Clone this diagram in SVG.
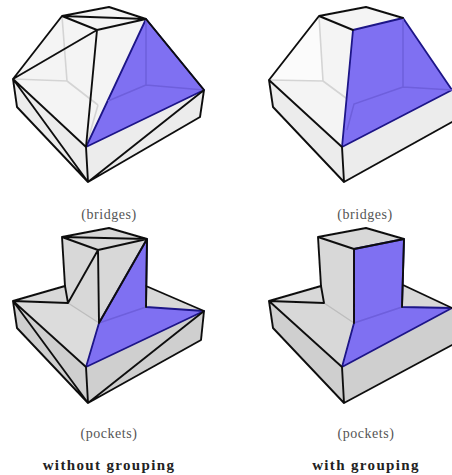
<svg xmlns="http://www.w3.org/2000/svg" width="452" height="475" viewBox="0 0 452 475">
<defs><filter id="soft" x="-5%" y="-5%" width="110%" height="110%"><feGaussianBlur stdDeviation="0.4"/></filter></defs>
<style>
.k{fill:none;stroke:#111;stroke-width:1.9;stroke-linejoin:round;stroke-linecap:round}
.g{fill:none;stroke:#d4d4d4;stroke-width:1.6}
.g2{fill:none;stroke:#bdbdbd;stroke-width:1.3}
.gb{fill:none;stroke:#6e5fdc;stroke-width:1.5}
.b{fill:#7f70f2;stroke:#1d1487;stroke-width:1.8;stroke-linejoin:round}
.l1{fill:#f4f4f4}.w{fill:#fbfbfb}.s1{fill:#ececec}
.l2{fill:#dcdcdc}.d2{fill:#cfcfcf}.m2{fill:#d8d8d8}
.sh{filter:url(#soft)}
text{font-family:"Liberation Serif","DejaVu Serif",serif;text-anchor:middle}
.c{font-size:14px;fill:#555;letter-spacing:.55px}
.t{font-size:15px;font-weight:bold;fill:#222;letter-spacing:1.35px}
</style>
<g id="shape-bridges-without" class="sh">
<polygon class="l1" points="13,79 62,16 109,7 146,19 204,90 200,117 88,182 17,107"/>
<polygon class="s1" points="86,147 204,90 200,117 88,182"/>
<polygon class="s1" points="13,79 86,147 88,182 17,107"/>
<path class="g" d="M62,16 L67,81 L13,79 M67,81 L98,105 M98,105 L86,147"/>
<polygon class="b" points="146,19 204,90 86,147"/>
<path class="gb" d="M146,19 L146,85 M146,85 L204,90 M146,85 L108,101"/>
<path class="k" d="M13,79 L62,16 L109,7 L146,19 L97,30 L62,16 M62,16 L146,19 M13,79 L97,30 L86,147 M146,19 L204,90 L200,117 L88,182 L17,107 L13,79 L86,147 L88,182 M13,79 L88,182 M204,90 L88,182"/>
</g>
<g id="shape-bridges-with" class="sh">
<polygon class="l1" points="269,80 319,16 366,7 403,18 452,90 452,122 344,182 273,107"/>
<polygon class="w" points="269,80 319,16 323,81"/>
<polygon class="s1" points="342,147 452,90 452,122 344,182"/>
<polygon class="s1" points="269,80 342,147 344,182 273,107"/>
<path class="g" d="M319,16 L323,81 L269,80 M323,81 L354,104"/>
<polygon class="b" points="353,30 403,18 452,90 342,147"/>
<path class="gb" d="M403,18 L403,87 M403,87 L452,90 M403,87 L354,104 L347,130"/>
<path class="k" d="M269,80 L319,16 L366,7 L403,18 M353,30 L319,16 M269,80 L342,147 L344,182 L273,107 L269,80 M344,182 L452,122"/>
</g>
<g id="label-bridges-left"><text class="c" x="109" y="219">(bridges)</text></g>
<g id="label-bridges-right"><text class="c" x="365" y="219">(bridges)</text></g>
<g id="shape-pockets-without" class="sh">
<polygon class="m2" points="13,301 65,286 62,237 109,228 147,239 146,286 204,311 201,340 88,403 17,328"/>
<polygon class="d2" points="86,367 204,311 201,340 88,403"/>
<polygon class="d2" points="13,301 86,367 88,403 17,328"/>
<polygon class="l2" points="13,301 68,303 99,323 86,367"/>
<path class="g2" d="M68,303 L99,323"/>
<polygon class="b" points="147,239 146,307 204,311 86,367 99,323"/>
<path class="gb" d="M146,307 L99,323"/>
<path class="k" d="M13,301 L65,286 M146,286 L204,311 L201,340 L88,403 L17,328 L13,301 L68,303 L65,286 L62,237 L109,228 L147,239 L98,250 L62,237 L147,239 L146,307 M68,303 L98,250 L99,323 L147,239 M13,301 L86,367 L88,403 M13,301 L88,403 M204,311 L88,403"/>
</g>
<g id="shape-pockets-with" class="sh">
<polygon class="m2" points="269,301 321,286 318,237 366,228 404,239 403,285 452,308 452,345 344,403 273,328"/>
<polygon class="d2" points="342,367 452,308 452,345 344,403"/>
<polygon class="d2" points="269,301 342,367 344,403 273,328"/>
<path class="g2" d="M324,303 L354,323"/>
<polygon class="b" points="354,249 404,239 402,307 452,308 342,367 354,323"/>
<path class="gb" d="M402,307 L354,323"/>
<path class="k" d="M269,301 L321,286 M403,285 L452,308 M269,301 L324,303 L321,286 L318,237 L366,228 L404,239 L354,249 L318,237 M354,249 L354,323 M404,239 L402,307 M269,301 L342,367 L344,403 L273,328 L269,301 M344,403 L452,345"/>
</g>
<g id="label-pockets-left"><text class="c" x="109" y="438">(pockets)</text></g>
<g id="label-pockets-right"><text class="c" x="366" y="438">(pockets)</text></g>
<g id="label-without"><text class="t" x="109" y="470">without grouping</text></g>
<g id="label-with"><text class="t" x="366" y="470">with grouping</text></g>
</svg>
